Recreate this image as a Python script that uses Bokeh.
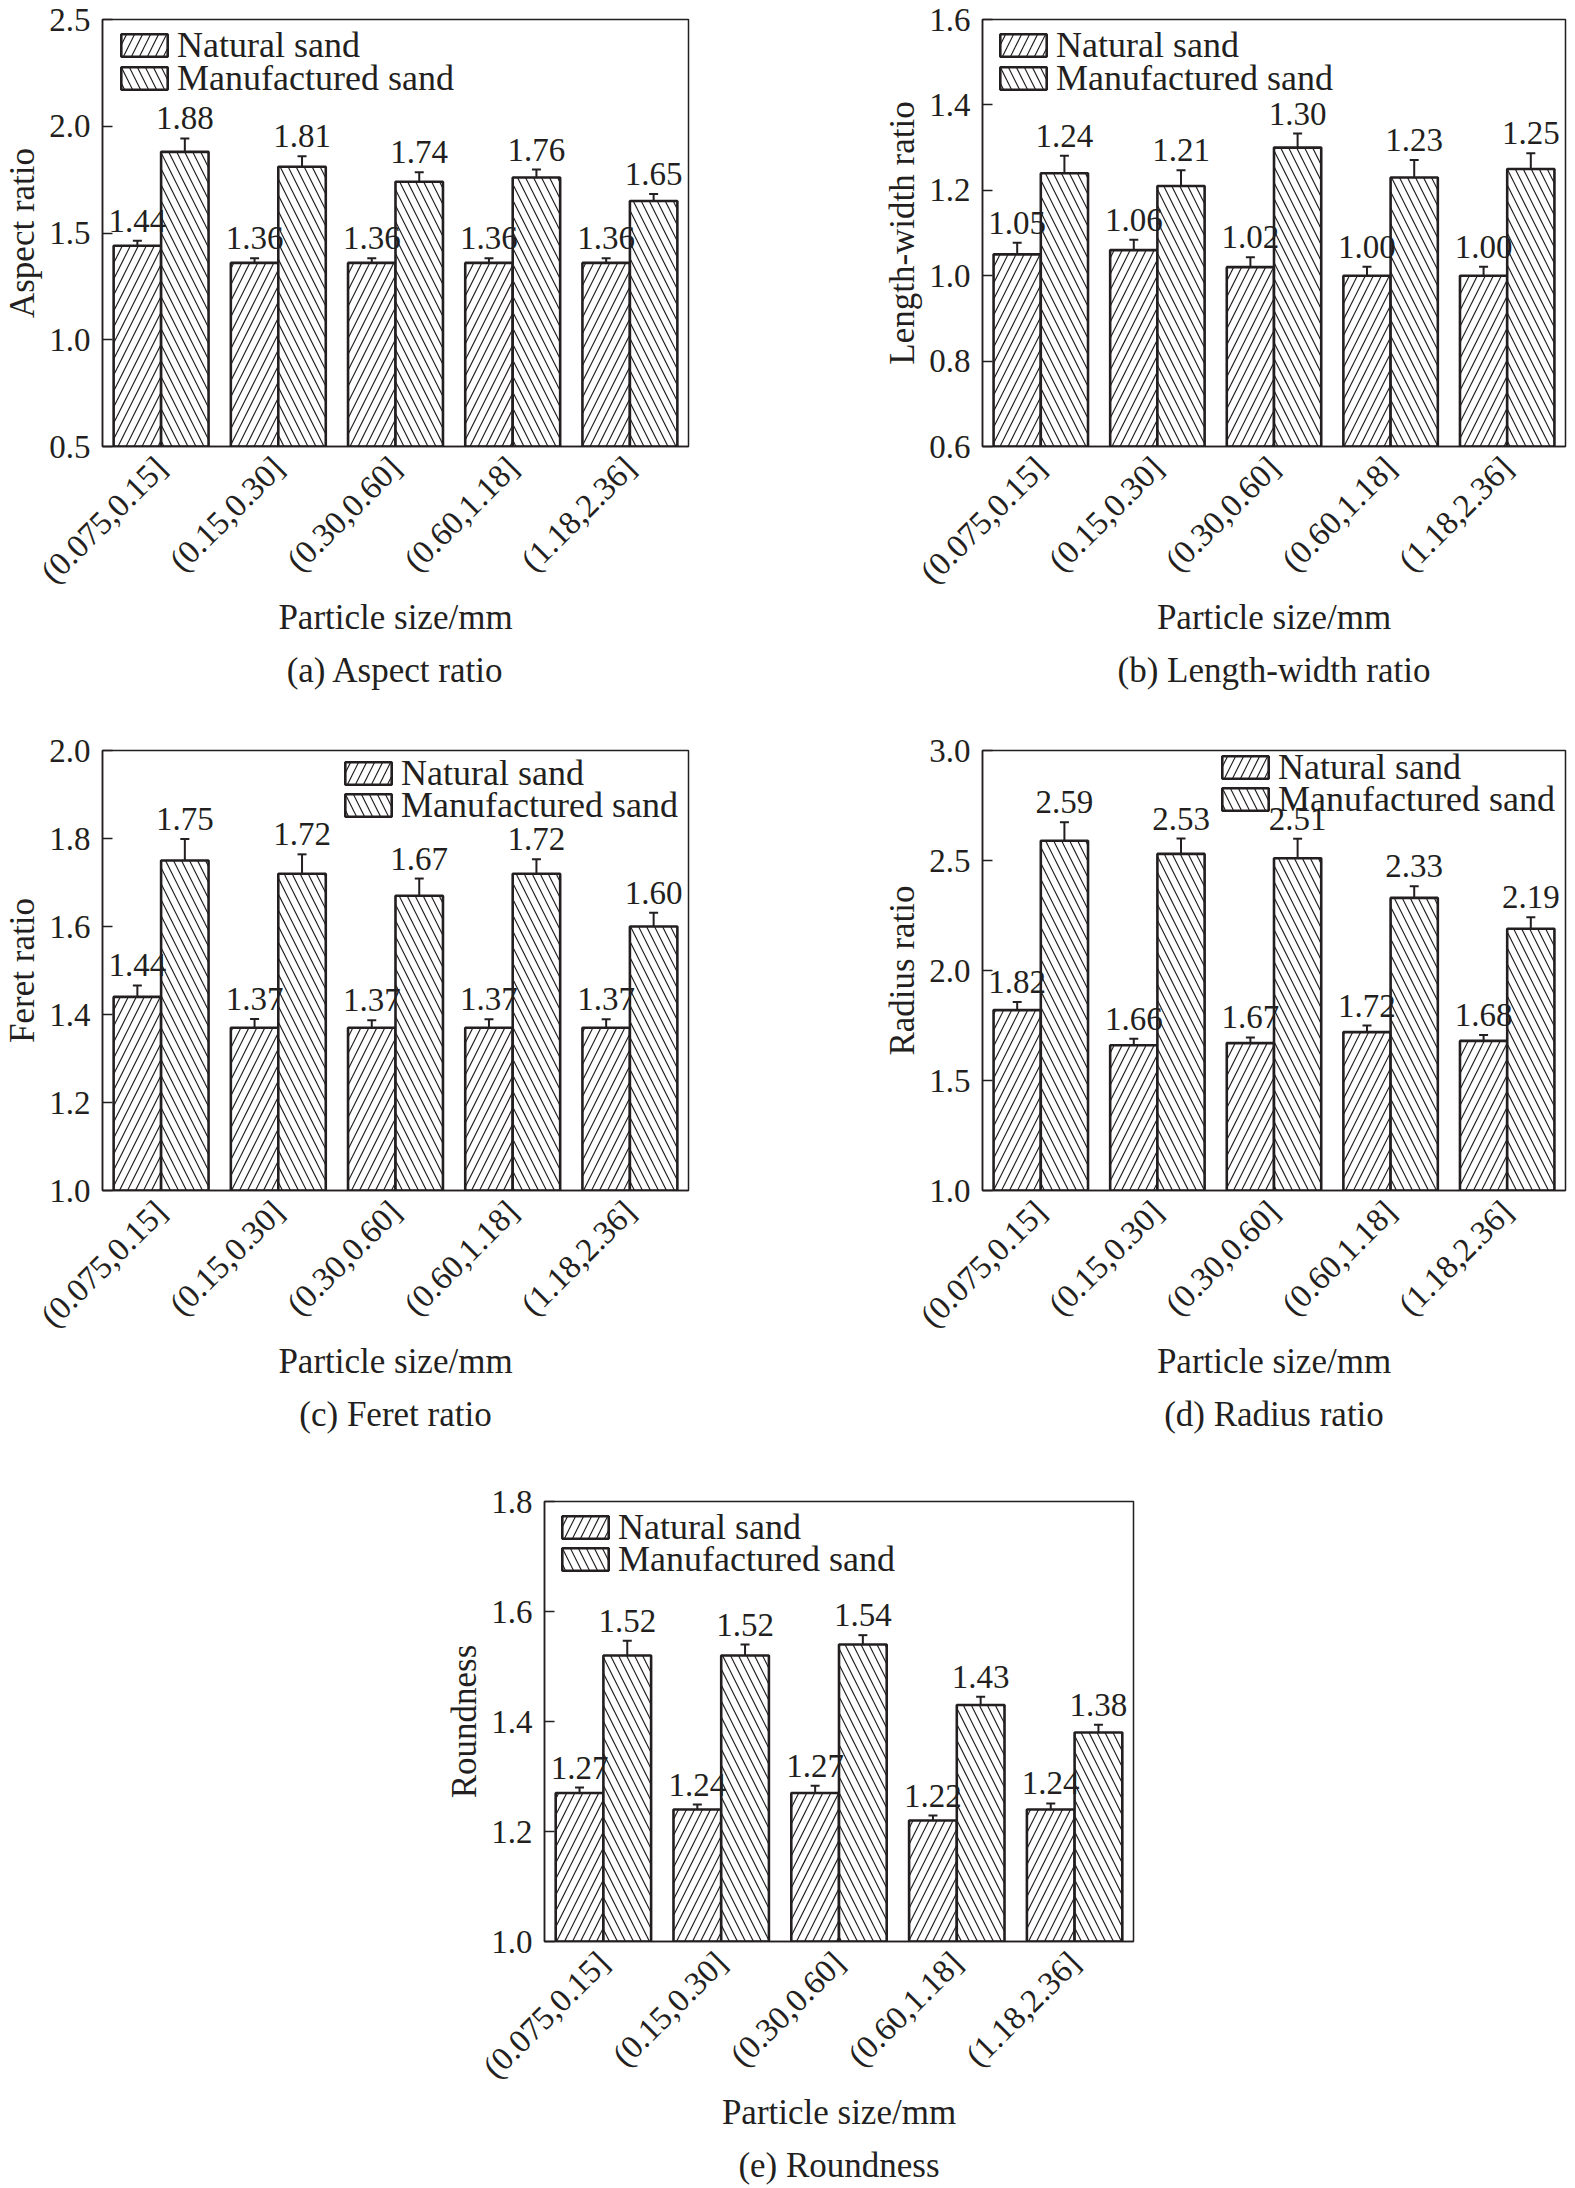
import math
from bokeh.plotting import figure
from bokeh.models import (ColumnDataSource, FactorRange, Range1d, FixedTicker,
                          PrintfTickFormatter, Whisker, TeeHead, Legend, LegendItem,
                          Title, Spacer)
from bokeh.layouts import column, row
from bokeh.transform import dodge
from bokeh.core.properties import value
from bokeh.embed import file_html
from bokeh.resources import INLINE

# ---------------- data ----------------
categories = ["(0.075,0.15]", "(0.15,0.30]", "(0.30,0.60]", "(0.60,1.18]", "(1.18,2.36]"]
series_names = ["Natural sand", "Manufactured sand"]
x_label = "Particle size/mm"

# (a) Aspect ratio
aspect_natural = [1.44, 1.36, 1.36, 1.36, 1.36]
aspect_manufactured = [1.88, 1.81, 1.74, 1.76, 1.65]
aspect_natural_err = [0.024, 0.022, 0.022, 0.022, 0.022]
aspect_manufactured_err = [0.063, 0.050, 0.045, 0.037, 0.033]
aspect_ticks = [0.5, 1.0, 1.5, 2.0, 2.5]

# (b) Length-width ratio
lw_natural = [1.05, 1.06, 1.02, 1.00, 1.00]
lw_manufactured = [1.24, 1.21, 1.30, 1.23, 1.25]
lw_natural_err = [0.027, 0.024, 0.023, 0.021, 0.021]
lw_manufactured_err = [0.041, 0.037, 0.033, 0.041, 0.037]
lw_ticks = [0.6, 0.8, 1.0, 1.2, 1.4, 1.6]

# (c) Feret ratio
feret_natural = [1.44, 1.37, 1.37, 1.37, 1.37]
feret_manufactured = [1.75, 1.72, 1.67, 1.72, 1.60]
feret_natural_err = [0.026, 0.020, 0.017, 0.019, 0.019]
feret_manufactured_err = [0.049, 0.044, 0.039, 0.033, 0.031]
feret_ticks = [1.0, 1.2, 1.4, 1.6, 1.8, 2.0]

# (d) Radius ratio
radius_natural = [1.82, 1.66, 1.67, 1.72, 1.68]
radius_manufactured = [2.59, 2.53, 2.51, 2.33, 2.19]
radius_natural_err = [0.037, 0.030, 0.026, 0.030, 0.027]
radius_manufactured_err = [0.084, 0.070, 0.089, 0.053, 0.052]
radius_ticks = [1.0, 1.5, 2.0, 2.5, 3.0]

# (e) Roundness
round_natural = [1.27, 1.24, 1.27, 1.22, 1.24]
round_manufactured = [1.52, 1.52, 1.54, 1.43, 1.38]
round_natural_err = [0.010, 0.009, 0.013, 0.009, 0.011]
round_manufactured_err = [0.027, 0.020, 0.017, 0.015, 0.014]
round_ticks = [1.0, 1.2, 1.4, 1.6, 1.8]

# ---------------- style ----------------
FONT = "Liberation Serif"
INK = "#231f20"
BAR_W = 0.405
OFF = BAR_W / 2


def make_legend(renderer, label, xy):
    return Legend(items=[LegendItem(label=label, renderers=[renderer])],
                  location=xy, orientation="vertical",
                  glyph_width=58, glyph_height=28, label_height=28,
                  label_standoff=4, spacing=0, padding=0, margin=0,
                  label_text_font=FONT, label_text_font_size="36px",
                  label_text_color=INK,
                  border_line_alpha=0, background_fill_alpha=0)


def make_panel(nat, man, nat_err, man_err, ticks, ylabel, caption,
               frame_w, frame_h, leg_x, leg_y1, leg_y2, bl, br, bt, bb):
    y0, y1 = ticks[0], ticks[-1]
    src = ColumnDataSource(dict(
        cat=categories,
        nat=nat, man=man,
        nat_up=[v + e for v, e in zip(nat, nat_err)],
        nat_lo=[v - e for v, e in zip(nat, nat_err)],
        man_up=[v + e for v, e in zip(man, man_err)],
        man_lo=[v - e for v, e in zip(man, man_err)],
        nat_txt=["%.2f" % v for v in nat],
        man_txt=["%.2f" % v for v in man],
    ))
    p = figure(x_range=FactorRange(*categories), y_range=Range1d(y0, y1),
               frame_width=frame_w, frame_height=frame_h,
               min_border_left=bl, min_border_right=br,
               min_border_top=bt, min_border_bottom=bb,
               output_backend="svg", toolbar_location=None,
               background_fill_color="white", border_fill_color="white")
    p.grid.visible = False
    p.outline_line_color = INK
    p.outline_line_width = 1.5
    p.outline_line_alpha = 1.0

    xn = dodge("cat", -OFF, range=p.x_range)
    xm = dodge("cat", OFF, range=p.x_range)
    r_nat = p.vbar(x=xn, top="nat", bottom=y0, width=BAR_W, source=src,
                   fill_color="white", line_color=INK, line_width=2.6,
                   hatch_pattern="/", hatch_color=INK, hatch_weight=1.2,
                   hatch_scale=16)
    r_man = p.vbar(x=xm, top="man", bottom=y0, width=BAR_W, source=src,
                   fill_color="white", line_color=INK, line_width=2.6,
                   hatch_pattern="\\", hatch_color=INK, hatch_weight=1.2,
                   hatch_scale=16)

    for base, up, lo in ((xn, "nat_up", "nat_lo"), (xm, "man_up", "man_lo")):
        w = Whisker(source=src, base=base, upper=up, lower=lo,
                    line_color=INK, line_width=2,
                    upper_head=TeeHead(size=9, line_color=INK, line_width=2),
                    lower_head=TeeHead(size=9, line_color=INK, line_width=2))
        p.add_layout(w)

    for x, up, txt in ((xn, "nat_up", "nat_txt"), (xm, "man_up", "man_txt")):
        p.text(x=x, y=up, text=txt, source=src, text_align="center",
               text_baseline="alphabetic", y_offset=-20,
               text_font=value(FONT), text_font_size="33px", text_color=INK)

    p.add_layout(make_legend(r_nat, series_names[0], (leg_x, leg_y1)), "center")
    p.add_layout(make_legend(r_man, series_names[1], (leg_x, leg_y2)), "center")

    ya = p.yaxis[0]
    ya.ticker = FixedTicker(ticks=ticks)
    ya.formatter = PrintfTickFormatter(format="%.1f")
    ya.major_tick_in = 10
    ya.major_tick_out = 0
    ya.minor_tick_line_color = None
    ya.major_tick_line_color = INK
    ya.major_tick_line_width = 1.5
    ya.axis_line_color = INK
    ya.axis_line_width = 1.5
    ya.major_label_standoff = 12
    ya.major_label_text_font = FONT
    ya.major_label_text_font_size = "33px"
    ya.major_label_text_color = INK
    ya.axis_label = ylabel
    ya.axis_label_standoff = 4
    ya.axis_label_text_font = FONT
    ya.axis_label_text_font_size = "35px"
    ya.axis_label_text_font_style = "normal"
    ya.axis_label_text_color = INK

    xa = p.xaxis[0]
    xa.major_tick_in = 0
    xa.major_tick_out = 0
    xa.minor_tick_line_color = None
    xa.axis_line_color = INK
    xa.axis_line_width = 1.5
    xa.major_label_orientation = math.pi / 4
    xa.major_label_standoff = 16
    xa.major_label_text_font = FONT
    xa.major_label_text_font_size = "33px"
    xa.major_label_text_color = INK
    xa.axis_label = x_label
    xa.axis_label_standoff = -8
    xa.axis_label_text_font = FONT
    xa.axis_label_text_font_size = "35px"
    xa.axis_label_text_font_style = "normal"
    xa.axis_label_text_color = INK

    cap = Title(text=caption, align="center", text_font=FONT,
                text_font_size="35px", text_font_style="normal",
                text_color=INK, standoff=19)
    p.add_layout(cap, "below")
    return p


pa = make_panel(aspect_natural, aspect_manufactured, aspect_natural_err,
                aspect_manufactured_err, aspect_ticks, "Aspect ratio",
                "(a) Aspect ratio", 586, 427, 13, 380, 347, 94, 10, 19, 285)
pb = make_panel(lw_natural, lw_manufactured, lw_natural_err,
                lw_manufactured_err, lw_ticks, "Length-width ratio",
                "(b) Length-width ratio", 583, 427, 12, 380, 347, 284, 2, 19, 285)
pc = make_panel(feret_natural, feret_manufactured, feret_natural_err,
                feret_manufactured_err, feret_ticks, "Feret ratio",
                "(c) Feret ratio", 586, 440, 237, 396, 364, 94, 10, 19, 282)
pd = make_panel(radius_natural, radius_manufactured, radius_natural_err,
                radius_manufactured_err, radius_ticks, "Radius ratio",
                "(d) Radius ratio", 583, 440, 234, 402, 370, 284, 2, 19, 282)
pe = make_panel(round_natural, round_manufactured, round_natural_err,
                round_manufactured_err, round_ticks, "Roundness",
                "(e) Roundness", 589, 440, 12, 393, 361, 94, 10, 29, 230)

layout = column(row(pa, pb), row(pc, pd), row(Spacer(width=442, height=10), pe))

open("out.html", "w").write(file_html(layout, INLINE))
